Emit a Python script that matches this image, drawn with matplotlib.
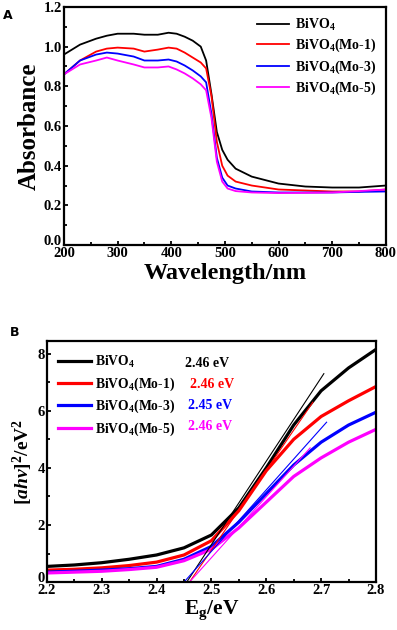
import numpy as np
import matplotlib
matplotlib.use('Agg')
import matplotlib.pyplot as plt
from matplotlib.ticker import AutoMinorLocator
from matplotlib.transforms import ScaledTranslation

plt.rcParams['font.family'] = 'Liberation Serif'
plt.rcParams['font.weight'] = 'bold'
plt.rcParams['mathtext.fontset'] = 'custom'
plt.rcParams['mathtext.rm'] = 'Liberation Serif:bold'
plt.rcParams['mathtext.it'] = 'Liberation Serif:bold:italic'
plt.rcParams['mathtext.bf'] = 'Liberation Serif:bold'

labels = [r'BiVO$_4$', r'BiVO$_4$(Mo-1)', r'BiVO$_4$(Mo-3)', r'BiVO$_4$(Mo-5)']
colors = ['black', 'red', 'blue', 'magenta']

# Panel A: absorbance spectra
wl = [200, 230, 260, 280, 300, 330, 350, 375, 395, 410, 425, 440, 455, 465,
      475, 485, 495, 505, 520, 550, 600, 650, 700, 750, 800]
abs_bivo4 = [0.96, 1.01, 1.04, 1.055, 1.065, 1.065, 1.06, 1.06, 1.07, 1.065, 1.05,
             1.03, 1.0, 0.93, 0.76, 0.57, 0.48, 0.43, 0.385, 0.345, 0.31, 0.295,
             0.29, 0.29, 0.30]
abs_mo1 = [0.86, 0.93, 0.975, 0.99, 0.995, 0.99, 0.975, 0.985, 0.995, 0.99, 0.97,
           0.945, 0.92, 0.89, 0.75, 0.52, 0.40, 0.35, 0.32, 0.30, 0.28, 0.275,
           0.27, 0.27, 0.28]
abs_mo3 = [0.86, 0.93, 0.96, 0.97, 0.965, 0.95, 0.93, 0.93, 0.935, 0.925, 0.905,
           0.88, 0.85, 0.82, 0.66, 0.44, 0.34, 0.30, 0.285, 0.27, 0.265, 0.265,
           0.265, 0.268, 0.27]
abs_mo5 = [0.86, 0.91, 0.93, 0.945, 0.93, 0.91, 0.895, 0.895, 0.9, 0.885, 0.865,
           0.84, 0.81, 0.78, 0.64, 0.42, 0.32, 0.285, 0.272, 0.265, 0.262, 0.263,
           0.265, 0.272, 0.28]

# Panel B: Tauc plot
eg = [2.2, 2.25, 2.3, 2.35, 2.4, 2.45, 2.5, 2.55, 2.6, 2.65, 2.7, 2.75, 2.8]
tauc_bivo4 = [0.55, 0.6, 0.68, 0.8, 0.95, 1.2, 1.65, 2.6, 4.0, 5.5, 6.7, 7.5, 8.15]
tauc_mo1 = [0.42, 0.45, 0.5, 0.58, 0.7, 0.95, 1.45, 2.5, 3.9, 5.0, 5.8, 6.35, 6.85]
tauc_mo3 = [0.35, 0.38, 0.42, 0.47, 0.55, 0.8, 1.25, 2.1, 3.1, 4.1, 4.9, 5.5, 5.95]
tauc_mo5 = [0.32, 0.35, 0.38, 0.44, 0.52, 0.75, 1.15, 1.9, 2.8, 3.7, 4.35, 4.9, 5.35]
# tangent line endpoints (x0, x1, y1)
tan_x0 = [2.455, 2.46, 2.45, 2.46]
tan_x1 = [2.705, 2.685, 2.71, 2.68]
tan_y1 = [7.3, 6.3, 5.6, 4.7]
gaps = ['2.46 eV', '2.46 eV', '2.45 eV', '2.46 eV']
gap_x = [0.42, 0.435, 0.43, 0.43]

fig = plt.figure(figsize=(3.97, 6.3), dpi=100)

# ---- A ----
ax1 = fig.add_axes([0.161, 0.611, 0.811, 0.378])
for yv, lab, c in zip([abs_bivo4, abs_mo1, abs_mo3, abs_mo5], labels, colors):
    ax1.plot(wl, yv, color=c, lw=1.3, label=lab)
ax1.set_xlim(200, 800)
ax1.set_ylim(0, 1.2)
ax1.set_xticks(np.arange(200, 801, 100))
ax1.set_yticks(np.arange(0, 1.21, 0.2))
ax1.set_yticklabels([f'{v:.1f}' for v in np.arange(0, 1.21, 0.2)])
ax1.set_xlabel('Wavelength/nm', fontsize=17.5, fontweight='bold', labelpad=2)
ax1.set_ylabel('Absorbance', fontsize=18, fontweight='bold', labelpad=2)
ax1.legend(loc='upper right', fontsize=10, frameon=False, handlelength=2.3,
           handletextpad=0.4, labelspacing=0.3, borderaxespad=0.3)
fig.text(0.008, 0.985, 'A', family='DejaVu Sans', fontweight='bold', fontsize=9,
         va='top')

# ---- B ----
ax2 = fig.add_axes([0.118, 0.076, 0.829, 0.383])
for yv, c in zip([tauc_bivo4, tauc_mo1, tauc_mo3, tauc_mo5], colors):
    ax2.plot(eg, yv, color=c, lw=2.3)
for x0, x1, y1, c in zip(tan_x0, tan_x1, tan_y1, colors):
    ax2.plot([x0, x1], [0, y1], color=c, lw=0.8)
handles = [plt.Line2D([], [], color=c, lw=2.3) for c in colors]
ax2.legend(handles, labels, loc='upper left', fontsize=9.8, frameon=False,
           handlelength=2.4, handletextpad=0.3, labelspacing=0.38,
           borderaxespad=0.3, bbox_to_anchor=(0.005, 0.985))
for i, (g, gx, c) in enumerate(zip(gaps, gap_x, colors)):
    ax2.text(gx, 0.905 - i * 0.086, g, color=c, fontsize=10, fontweight='bold',
             transform=ax2.transAxes, va='center')
ax2.set_xlim(2.2, 2.8)
ax2.set_ylim(0, 8.45)
ax2.set_xticks(np.arange(2.2, 2.81, 0.1))
ax2.set_xticklabels([f'{v:.1f}' for v in np.arange(2.2, 2.81, 0.1)])
ax2.set_yticks([0, 2, 4, 6, 8])
ax2.set_xlabel(r'E$_\mathregular{g}$/eV', fontsize=15.5, fontweight='bold', labelpad=1)
ax2.set_ylabel(r'$[ahv]^2$/eV$^2$', fontsize=14, fontweight='bold', labelpad=2)
fig.text(0.025, 0.482, 'B', family='DejaVu Sans', fontweight='bold', fontsize=9,
         va='top')

for ax in (ax1, ax2):
    ax.xaxis.set_minor_locator(AutoMinorLocator(2))
    ax.yaxis.set_minor_locator(AutoMinorLocator(2))
    ax.tick_params(which='both', direction='in', labelsize=10.5, width=1.3, pad=1.5)
    ax.tick_params(which='major', length=3)
    ax.tick_params(which='minor', length=2)
    ax.tick_params(top=False, right=False, which='both')
    for sp in ax.spines.values():
        sp.set_linewidth(1.6)
    for t in ax.get_xticklabels() + ax.get_yticklabels():
        t.set_fontweight('bold')
    # lift the lowest y label so it sits just above the first x label
    first = ax.get_yticklabels()[0]
    first.set_transform(first.get_transform() + ScaledTranslation(0, 4 / 72, fig.dpi_scale_trans))

fig.savefig('out.png', dpi=100)
